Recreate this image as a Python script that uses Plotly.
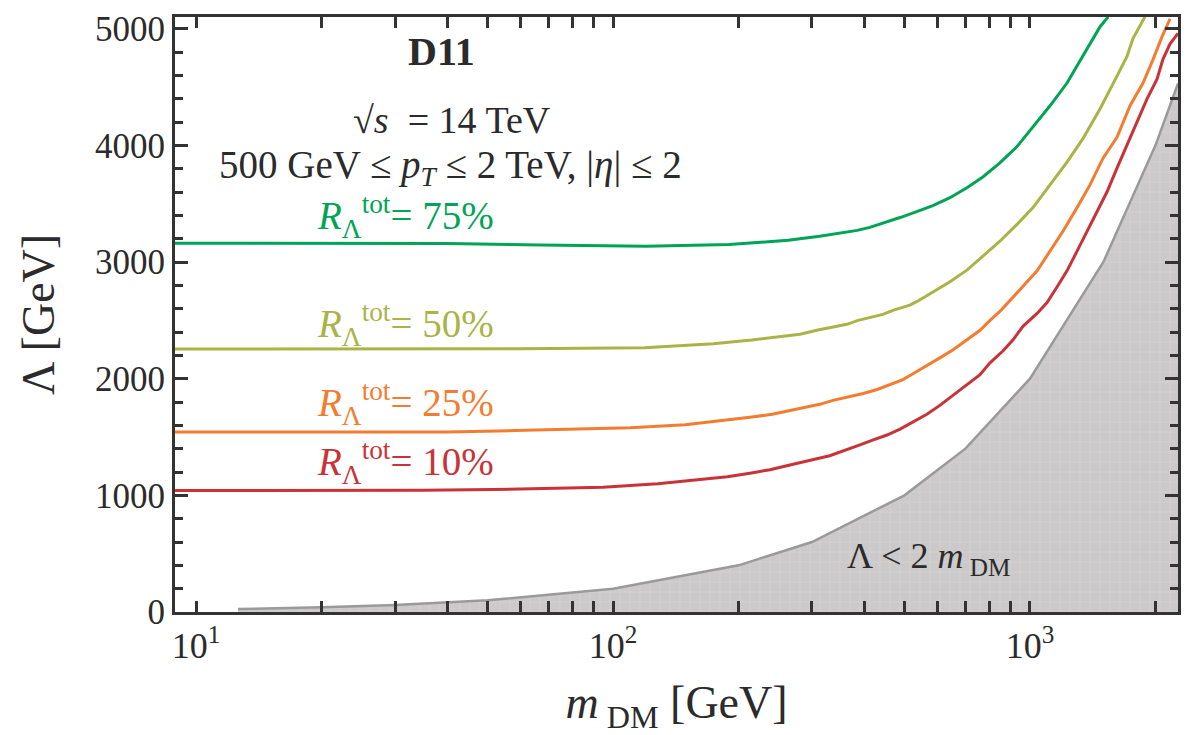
import plotly.graph_objects as go
import math

# ---- data ----
m_75 = [8.9, 40, 66.8, 120, 190, 263, 313, 350, 385, 413, 444, 488, 535, 585, 643, 706, 771, 847, 931, 1017, 1117, 1227, 1341, 1473, 1540]
L_75 = [3161, 3158, 3145, 3136, 3150, 3186, 3220, 3246, 3271, 3297, 3331, 3381, 3432, 3483, 3551, 3636, 3729, 3850, 3990, 4160, 4339, 4534, 4763, 5017, 5102]

m_50 = [8.9, 60, 119, 174, 215, 249, 281, 308, 337, 364, 387, 413, 444, 469, 515, 535, 585, 643, 706, 771, 847, 931, 1017, 1117, 1227, 1341, 1473, 1617, 1709, 1766, 1887]
L_50 = [2254, 2256, 2266, 2300, 2331, 2356, 2381, 2415, 2441, 2466, 2500, 2525, 2551, 2585, 2630, 2660, 2740, 2830, 2930, 3050, 3178, 3322, 3466, 3661, 3856, 4059, 4314, 4593, 4763, 4915, 5102]

m_25 = [8.9, 40, 58.2, 110, 149, 184, 213, 241, 269, 292, 313, 337, 364, 398, 430, 462, 496, 524, 566, 608, 653, 706, 759, 802, 847, 895, 962, 1040, 1117, 1200, 1297, 1393, 1497, 1617, 1738, 1867, 1974, 2074, 2168]
L_25 = [1542, 1543, 1555, 1580, 1606, 1640, 1669, 1695, 1729, 1754, 1780, 1814, 1839, 1873, 1907, 1949, 1992, 2042, 2110, 2178, 2246, 2331, 2415, 2500, 2576, 2669, 2788, 2924, 3093, 3263, 3466, 3661, 3890, 4068, 4339, 4534, 4737, 4932, 5085]

m_10 = [8.9, 35, 51.5, 94.6, 128, 159, 188, 213, 238, 261, 285, 308, 331, 364, 391, 421, 454, 488, 524, 566, 608, 653, 706, 759, 802, 861, 910, 962, 1040, 1099, 1162, 1227, 1297, 1371, 1449, 1531, 1617, 1709, 1806, 1909, 2017, 2084, 2168, 2265]
L_10 = [1042, 1043, 1050, 1070, 1100, 1136, 1160, 1190, 1220, 1254, 1288, 1314, 1339, 1390, 1432, 1475, 1517, 1568, 1627, 1695, 1771, 1856, 1941, 2034, 2136, 2237, 2331, 2449, 2559, 2653, 2788, 2924, 3093, 3263, 3432, 3602, 3805, 4000, 4195, 4398, 4568, 4737, 4870, 4960]

# excluded region Lambda < 2 m_DM (boundary)
m_ex = [12.6, 20, 30, 50, 100, 200, 300, 500, 700, 1000, 1500, 2000, 2265]
L_ex = [25, 40, 60, 100, 200, 400, 600, 1000, 1400, 2000, 3000, 4000, 4530]

series_names = ["10%", "25%", "50%", "75%"]
colors = {"75%": "#00a455", "50%": "#a9b346", "25%": "#f47c30", "10%": "#c93237"}

x_major = [10, 100, 1000]
x_major_text = ["10<sup>1</sup>", "10<sup>2</sup>", "10<sup>3</sup>"]
x_minor = [20, 30, 40, 50, 60, 70, 80, 90, 200, 300, 400, 500, 600, 700, 800, 900, 2000]

SERIF = "Liberation Serif, Times New Roman, serif"
TXT = "#2b2b2b"

fig = go.Figure()

fig.add_trace(go.Scatter(
    x=m_ex, y=L_ex, mode="lines", fill="tozeroy",
    line=dict(color="#9a9a9a", width=2.5),
    fillcolor="#cbc9c9",
    fillpattern=dict(shape="+", bgcolor="#cbc9c9", fgcolor="#d6d4d4", size=10, solidity=0.25),
    hoverinfo="skip", showlegend=False))

for name, xs, ys in [("10%", m_10, L_10), ("25%", m_25, L_25), ("50%", m_50, L_50), ("75%", m_75, L_75)]:
    fig.add_trace(go.Scatter(x=xs, y=ys, mode="lines", line=dict(color=colors[name], width=3),
                             name=name, showlegend=False))

# page body has an 8px margin: figure coords = screen coords - 8
OFF = 8
W0, W1, T0, B0 = 175 - OFF, 1178 - OFF, 10 - OFF, 612 - OFF
FW, FH = 1193 - OFF, 735 - OFF

def px(x):
    return (x - OFF - W0) / (W1 - W0)

def py(y):
    return (B0 - (y - OFF)) / (B0 - T0)

def ann(text, xp, yp, size, color=TXT):
    fig.add_annotation(text=text, x=xp, y=yp, xref="paper", yref="paper", showarrow=False,
                       font=dict(family=SERIF, size=size, color=color), xanchor="center", yanchor="middle")

ann("<b>D11</b>", px(441), py(45), 40)
ann("√<i>s</i>  = 14 TeV", px(452), py(114), 38)
ann("500 GeV ≤ <i>p</i><sub><i>T</i></sub> ≤ 2 TeV, |<i>η</i>| ≤ 2", px(450), py(162), 39)
label_pos = {"75%": 212, "50%": 321, "25%": 401, "10%": 461}
for name in series_names:
    ann("<i>R</i><sub>Λ</sub><sup>tot</sup>= " + name, px(405), py(label_pos[name]), 39, colors[name])
ann("Λ < 2 <i>m</i><sub> DM</sub>", px(928), py(558), 36)

fig.update_layout(
    width=FW, height=FH,
    margin=dict(l=W0, r=FW - W1, t=T0, b=FH - B0),
    paper_bgcolor="white", plot_bgcolor="white",
    font=dict(family=SERIF, color=TXT),
    xaxis=dict(type="log", range=[math.log10(8.9), math.log10(2265)],
               tickmode="array", tickvals=x_major, ticktext=x_major_text,
               ticks="inside", ticklen=11, tickwidth=3, tickcolor="#333",
               minor=dict(tickmode="array", tickvals=x_minor, ticks="inside", ticklen=11,
                          tickwidth=3, tickcolor="#333", showgrid=False),
               showline=True, linewidth=3, linecolor="#333", mirror="ticks",
               showgrid=False, zeroline=False, ticklabeloverflow="allow",
               tickfont=dict(size=36, family=SERIF, color=TXT),
               title=dict(text="<i>m</i><sub> DM</sub> [GeV]", font=dict(size=46, family=SERIF, color=TXT), standoff=32)),
    yaxis=dict(range=[0, 5100], dtick=1000, tick0=0,
               ticks="inside", ticklen=13, tickwidth=3, tickcolor="#333",
               minor=dict(dtick=200, ticks="inside", ticklen=8, tickwidth=3, tickcolor="#333", showgrid=False),
               showline=True, linewidth=3, linecolor="#333", mirror="ticks",
               showgrid=False, zeroline=False, ticklabeloverflow="allow",
               tickfont=dict(size=35, family=SERIF, color=TXT),
               title=dict(text="Λ [GeV]", font=dict(size=46, family=SERIF, color=TXT), standoff=26)),
)

fig.write_html("out.html")
